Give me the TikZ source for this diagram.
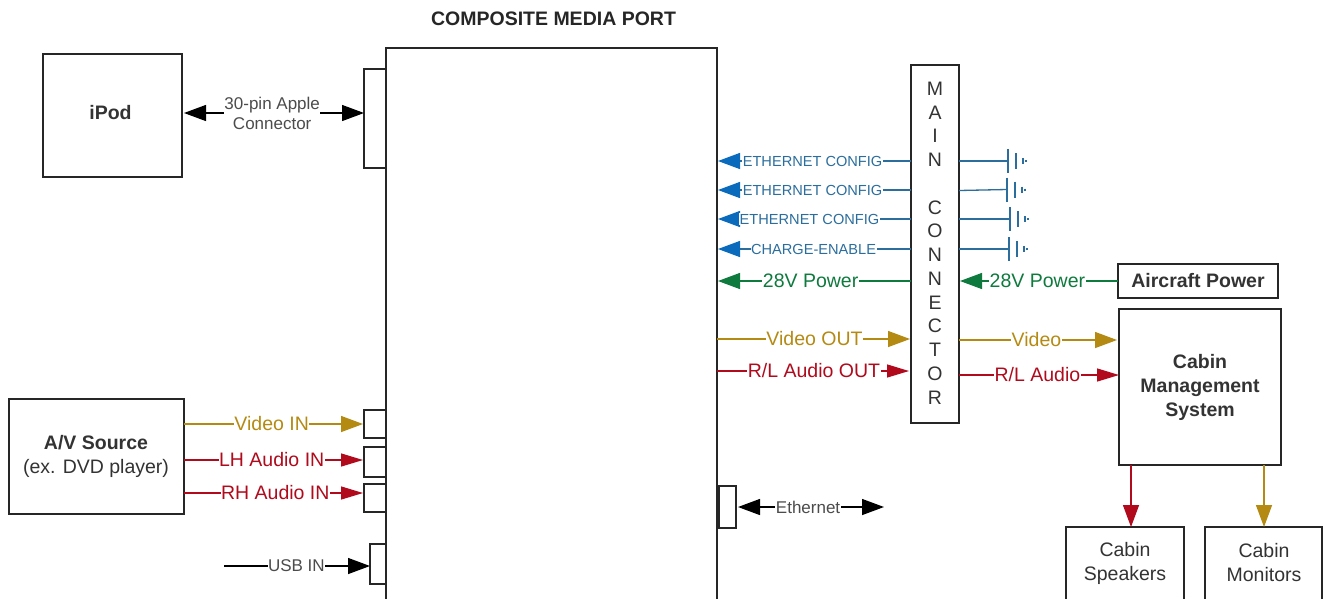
\documentclass[tikz,border=0pt]{standalone}
\usepackage{fontspec}
\setmainfont{Liberation Sans}
\usetikzlibrary{arrows.meta,calc}
\definecolor{bluel}{HTML}{2B6E9E}
\definecolor{bluet}{HTML}{0A6BBD}
\definecolor{greenl}{HTML}{0E7A3E}
\definecolor{goldl}{HTML}{B58A12}
\definecolor{redl}{HTML}{B00A1C}
\tikzset{
  boxn/.style={draw=black!85,line width=1.5pt,fill=white,anchor=north west,inner sep=0pt,outer sep=0pt,align=center,text=black!80},
  conn/.style={line width=1.3pt,-{Triangle[length=22pt,width=16pt]}},
  rconn/.style={line width=1.3pt,-{Triangle[length=22pt,width=13pt]}},
  dconn/.style={line width=1.3pt,{Triangle[length=22pt,width=16pt]}-{Triangle[length=22pt,width=16pt]}},
  vconn/.style={line width=1.3pt,-{Triangle[length=22pt,width=16pt]}},
  lbl/.style={fill=white,inner sep=0.5pt,font=\fontsize{19.5}{22}\selectfont},
  slbl/.style={fill=white,inner sep=0.5pt,font=\fontsize{17}{20}\selectfont,align=center,text=black!70},
  elbl/.style={fill=white,inner sep=0.5pt,font=\fontsize{14.6}{17}\selectfont,text=bluel},
  blue line/.style={line width=1.3pt,color=bluel,-{Triangle[length=22pt,width=16pt,color=bluet]}},
  batt/.style={line width=1.3pt,color=bluel},
  boxt/.style={font=\fontsize{19.5}{24}\selectfont},
  boxb/.style={font=\fontsize{19.5}{24}\selectfont\bfseries},
}
\newcommand{\bx}[6][]{\node[boxn,minimum width=#4pt,minimum height=#5pt,#1] (#2) at (#3) {#6};}
\newcommand{\bat}[2]{%
  \draw[batt] (#1) ++(0,-12) -- ++(0,24);
  \draw[batt] (#1) ++(#2,-8) -- ++(0,16);
  \draw[batt] (#1) ++(15,-3) -- ++(0,6);
  \draw[batt] (#1) ++(18,-1) -- ++(0,2);
}
\begin{document}
\begin{tikzpicture}[x=1pt,y=-1pt]
\useasboundingbox (0,0) rectangle (1324,598);
\clip (0,0) rectangle (1324,598);
\fill[white] (0,0) rectangle (1324,598);

\node[font=\fontsize{19.5}{22}\selectfont\bfseries,text=black!85] (title) at (553.5,19) {COMPOSITE MEDIA PORT};

\bx{media}{386,48}{331}{620}{}
\bx{ipod}{43,54}{139}{123}{}
\node[boxb,text=black!80] (ipodt) at (110.5,113) {iPod};
\bx{p30}{364,69}{22}{99}{}
\bx{av}{9,399}{175}{115}{}
\node[align=center,boxt,text=black!80] (avt) at (96,456) {\textbf{A/V Source}\\(ex. DVD player)};
\bx{pv}{364,410}{22}{28}{}
\bx{pl}{364,447}{22}{30}{}
\bx{pr}{364,484}{22}{28}{}
\bx{pu}{370,544}{16}{40}{}
\bx{pe}{719,486}{17}{42}{}
\bx{main}{911,65}{48}{358}{}
\node[align=center,font=\fontsize{19.5}{23.75}\selectfont,text=black!80] (maint) at (935,243) {M\\A\\I\\N\\[0pt]~\\C\\O\\N\\N\\E\\C\\T\\O\\R};
\bx[boxb]{air}{1118,264}{160}{34}{Aircraft Power}
\bx[boxb]{cms}{1119,309}{162}{156}{Cabin\\Management\\System}
\bx{spk}{1066,527}{118}{100}{}
\bx{mon}{1205,527}{117}{100}{}
\node[align=center,boxt,text=black!80] (spkt) at (1125,563) {Cabin\\Speakers};
\node[align=center,boxt,text=black!80] (mont) at (1264,563) {Cabin\\Monitors};

% iPod
\draw[dconn] ([xshift=2pt]ipod.east |- 0,113) -- node[slbl,pos=.49] (t30) {30-pin Apple\\Connector} (p30.west |- 0,113);
% inputs
\draw[conn,goldl] (av.east |- 0,424) -- node[lbl,pos=.49] (tvi) {Video IN} ([xshift=-1pt]pv.west |- 0,424);
\draw[rconn,redl] (av.east |- 0,460) -- node[lbl,pos=.49] (tli) {LH Audio IN} ([xshift=-1pt]pl.west |- 0,460);
\draw[rconn,redl] (av.east |- 0,493) -- node[lbl,pos=.51] (tri) {RH Audio IN} ([xshift=-1pt]pr.west |- 0,493);
\coordinate (usbs) at (224,566);
\draw[conn] (usbs) -- node[slbl,pos=.496] (tus) {USB IN} (pu.west |- usbs);
% blue
\draw[blue line] (main.west |- 0,161) -- node[elbl,pos=.51] (e1) {ETHERNET CONFIG} ([xshift=1pt]media.east |- 0,161);
\draw[blue line] (main.west |- 0,190) -- node[elbl,pos=.51] (e2) {ETHERNET CONFIG} ([xshift=1pt]media.east |- 0,190);
\draw[blue line] (main.west |- 0,219) -- node[elbl,pos=.526] (e3) {ETHERNET CONFIG} ([xshift=1pt]media.east |- 0,219);
\draw[blue line] (main.west |- 0,249) -- node[elbl,pos=.505] (e4) {CHARGE-ENABLE} ([xshift=1pt]media.east |- 0,249);
% batteries
\coordinate (b1) at (1008,161); \coordinate (b2) at (1007,189.5); \coordinate (b3) at (1010,219); \coordinate (b4) at (1009,249);
\draw[batt] (main.east |- b1) -- (b1);
\draw[batt] (main.east |- 0,190.5) -- (b2);
\draw[batt] (main.east |- b3) -- (b3);
\draw[batt] (main.east |- b4) -- (b4);
\bat{b1}{8}\bat{b2}{8}\bat{b3}{8}\bat{b4}{8}
% power
\draw[conn,greenl] (main.west |- 0,281) -- node[lbl,pos=.52] (g1) {28V Power} ([xshift=1pt]media.east |- 0,281);
\draw[conn,greenl] (air.west |- 0,281) -- node[lbl,pos=.51] (g2) {28V Power} ([xshift=1pt]main.east |- 0,281);
% outputs
\draw[conn,goldl] (media.east |- 0,339) -- node[lbl,pos=.505] (vo) {Video OUT} ([xshift=-1pt]main.west |- 0,339);
\draw[rconn,redl] (media.east |- 0,371) -- node[lbl,pos=.505] (ro) {R/L Audio OUT} ([xshift=-2pt]main.west |- 0,371);
\draw[conn,goldl] (main.east |- 0,340) -- node[lbl,pos=.49] (vv) {Video} ([xshift=-2pt]cms.west |- 0,340);
\draw[rconn,redl] (main.east |- 0,375) -- node[lbl,pos=.49] (ra) {R/L Audio} (cms.west |- 0,375);
% ethernet
\draw[dconn] ([xshift=2pt]pe.east |- 0,507) -- node[slbl,pos=.48] (teth) {Ethernet} (884,507);
% down
\draw[vconn,redl] (cms.south -| 1131,0) -- (spk.north -| 1131,0);
\draw[vconn,goldl] (cms.south -| 1264,0) -- (mon.north -| 1264,0);
\end{tikzpicture}
\end{document}
